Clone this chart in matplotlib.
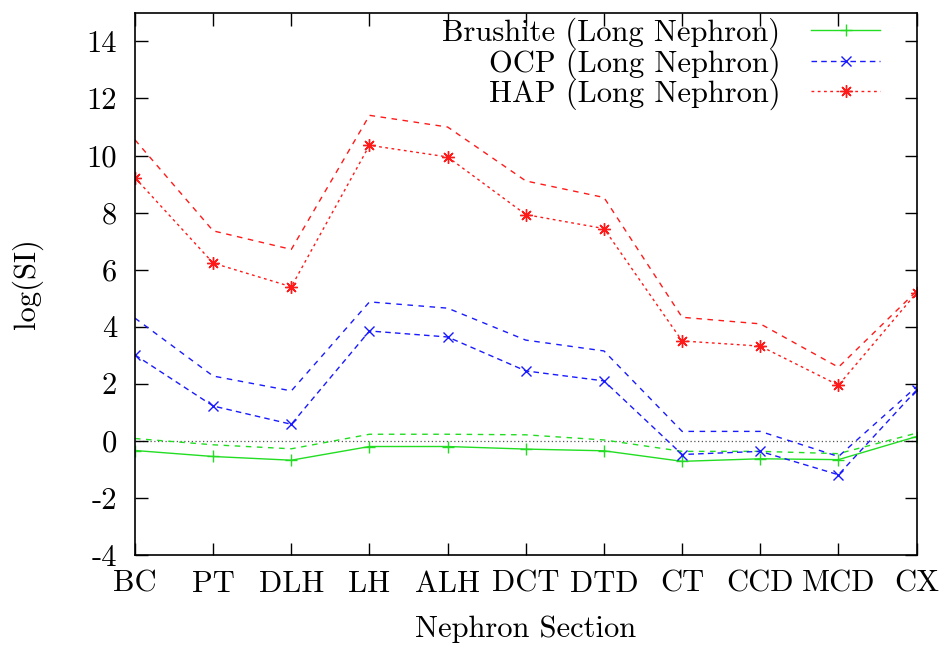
#!/usr/bin/env python3
import matplotlib
matplotlib.use('Agg')
import matplotlib.pyplot as plt

plt.rcParams['font.family'] = 'cmr10'
plt.rcParams['axes.unicode_minus'] = False
plt.rcParams['axes.formatter.use_mathtext'] = True

sections = ['BC', 'PT', 'DLH', 'LH', 'ALH', 'DCT', 'DTD', 'CT', 'CCD', 'MCD', 'CX']

# long nephron (with markers)
brushite = [-0.34, -0.55, -0.68, -0.20, -0.20, -0.29, -0.35, -0.72, -0.63, -0.66, 0.15]
ocp = [3.01, 1.22, 0.58, 3.85, 3.64, 2.45, 2.10, -0.48, -0.37, -1.19, 1.78]
hap = [9.22, 6.23, 5.40, 10.36, 9.95, 7.93, 7.44, 3.50, 3.32, 1.95, 5.19]

# second set, no markers, no legend entry
brushite2 = [0.08, -0.14, -0.28, 0.23, 0.23, 0.21, 0.03, -0.37, -0.37, -0.45, 0.27]
ocp2 = [4.30, 2.27, 1.75, 4.87, 4.65, 3.53, 3.15, 0.33, 0.33, -0.55, 1.90]
hap2 = [10.55, 7.36, 6.71, 11.41, 11.00, 9.11, 8.53, 4.33, 4.10, 2.58, 5.25]

yticks = [-4, -2, 0, 2, 4, 6, 8, 10, 12, 14]

green = '#22dd22'
blue = '#1a1aff'
red = '#ff1a1a'
fs = 22

fig = plt.figure(figsize=(9.44, 6.46), dpi=100)
ax = fig.add_axes([0.143, 0.141, 0.828, 0.839])
x = list(range(len(sections)))

ax.axhline(0, color='#555555', lw=0.9, ls=(0, (1, 2)), zorder=1)

ax.plot(x, brushite2, color=green, lw=1.0, ls=(0, (4, 4)))
ax.plot(x, ocp2, color=blue, lw=1.0, ls=(0, (4, 4)))
ax.plot(x, hap2, color=red, lw=1.0, ls=(0, (4, 4)))

ax.plot(x, brushite, color=green, lw=1.0, ls='-', marker='+', ms=9, mew=1.0,
        label='Brushite (Long Nephron)')
ax.plot(x, ocp, color=blue, lw=1.0, ls=(0, (4, 3)), marker='x', ms=7, mew=1.0,
        label='OCP (Long Nephron)')
ax.plot(x, hap, color=red, lw=1.0, ls=(0, (2, 2.5)), marker=(8, 2, 0), ms=9, mew=1.0,
        label='HAP (Long Nephron)')

ax.set_xlim(0, len(sections) - 1)
ax.set_ylim(-4, 15)
ax.set_xticks(x)
ax.set_xticklabels(sections)
ax.set_yticks(yticks)
ax.set_yticklabels([str(v) for v in yticks])
ax.tick_params(direction='in', length=9, width=1.0, top=True, right=True,
               labelsize=fs)
ax.tick_params(axis='y', pad=13)
ax.tick_params(axis='x', pad=11)
for s in ax.spines.values():
    s.set_linewidth(1.2)

ax.set_xlabel('Nephron Section', fontsize=fs, labelpad=13)
ax.set_ylabel('log(SI)', fontsize=fs, labelpad=31)

leg = ax.legend(loc='upper right', bbox_to_anchor=(0.953, 0.991),
                markerfirst=False, frameon=False, fontsize=fs,
                handlelength=2.25, handletextpad=1.0, labelspacing=-0.04,
                borderaxespad=0.0, borderpad=0.0)

fig.savefig('out.png', dpi=100)
